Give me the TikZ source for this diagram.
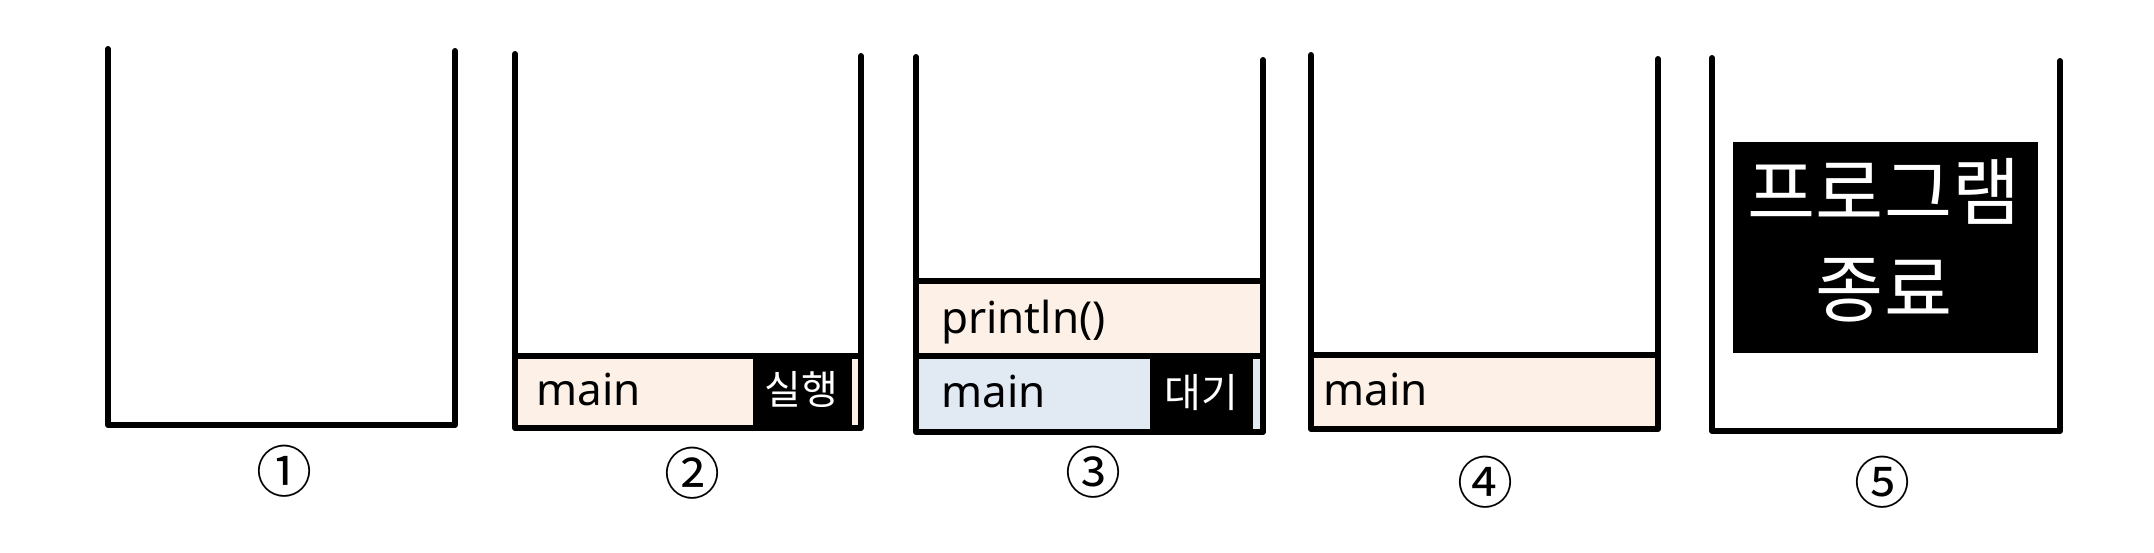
\documentclass[tikz,border=0pt]{standalone}
\usepackage{fontspec}
\setmainfont{Noto Sans}
\newfontfamily\krfont{Noto Sans CJK KR}
\definecolor{peach}{HTML}{FDF1E7}
\definecolor{paleblue}{HTML}{E1E9F3}
\tikzset{
  wall/.style={line width=6pt, line cap=round, line join=round},
  sepline/.style={line width=6pt},
  lbl/.style={inner sep=0pt, font=\fontsize{44}{50}\selectfont, anchor=base west},
  tagtext/.style={inner sep=0pt, text=white, font=\krfont\fontsize{40}{48}\selectfont, anchor=center},
  endtext/.style={inner sep=0pt, text=white, font=\krfont\fontsize{74}{80}\selectfont, anchor=center},
  num/.style={inner sep=0pt, font=\krfont\fontsize{56}{60}\selectfont, anchor=center}
}
\begin{document}
\begin{tikzpicture}[x=1pt,y=-1pt]
\useasboundingbox (0,0) rectangle (2154,552);
% ---------- stack 1 ----------
\draw[wall] (108,49) -- (108,425) -- (455,425) -- (455,51);
\node[num] (n1) at (284,471) {①};
% ---------- stack 2 ----------
\fill[peach] (515,356) rectangle (861,428);
\fill[black] (753,359) rectangle (852,425);
\draw[wall] (515,54) -- (515,428) -- (861,428) -- (861,56);
\draw[sepline] (515,356) -- (861,356);
\node[lbl] (m2) at (536,405) {main};
\node[tagtext] (t2) at (801,389) {실행};
\node[num] (n2) at (692,473) {②};
% ---------- stack 3 ----------
\fill[peach] (916,281) rectangle (1263,356);
\fill[paleblue] (916,356) rectangle (1263,432);
\fill[black] (1150,359) rectangle (1253,429);
\draw[wall] (916,57) -- (916,432) -- (1263,432) -- (1263,60);
\draw[sepline] (916,281) -- (1263,281);
\draw[sepline] (916,356) -- (1263,356);
\node[lbl] (p3) at (941,333) {println()};
\node[lbl] (m3) at (941,407) {main};
\node[tagtext] (t3) at (1201,393) {대기};
\node[num] (n3) at (1093,472) {③};
% ---------- stack 4 ----------
\fill[peach] (1311,355) rectangle (1658,429);
\draw[wall] (1311,55) -- (1311,429) -- (1658,429) -- (1658,59);
\draw[sepline] (1311,355) -- (1658,355);
\node[lbl] (m4) at (1323,405) {main};
\node[num] (n4) at (1485,482) {④};
% ---------- stack 5 ----------
\fill[black] (1733,142) rectangle (2038,353);
\draw[wall] (1712,58) -- (1712,431) -- (2060,431) -- (2060,61);
\node[endtext] (e1) at (1884,191) {프로그램};
\node[endtext] (e2) at (1884,290) {종료};
\node[num] (n5) at (1882,482) {⑤};
\end{tikzpicture}
\end{document}
